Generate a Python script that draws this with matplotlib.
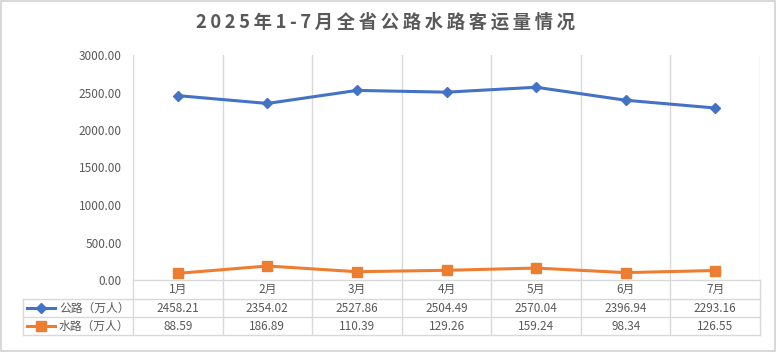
import matplotlib.pyplot as plt
import matplotlib.transforms as mtransforms

plt.rcParams['font.family'] = ['Noto Sans CJK SC', 'DejaVu Sans']

months = ['1月', '2月', '3月', '4月', '5月', '6月', '7月']
road = [2458.21, 2354.02, 2527.86, 2504.49, 2570.04, 2396.94, 2293.16]
water = [88.59, 186.89, 110.39, 129.26, 159.24, 98.34, 126.55]
road_label = '公路（万人）'
water_label = '水路（万人）'
title = '2025年1-7月全省公路水路客运量情况'

blue = '#4472C4'
orange = '#ED7D31'
grid = '#D9D9D9'
txt = '#595959'

W, H = 776, 352
fig = plt.figure(figsize=(W / 100, H / 100), dpi=100)
fig.patch.set_edgecolor(grid)
fig.patch.set_linewidth(1.5)

left, right, top, bottom = 133, 760, 55, 280
ax = fig.add_axes([left / W, 1 - bottom / H, (right - left) / W, (bottom - top) / H])

x = list(range(len(months)))
ax.plot(x, road, color=blue, lw=2.2, marker='D', ms=5.5, label=road_label)
ax.plot(x, water, color=orange, lw=2.2, marker='s', ms=7, label=water_label)

ax.set_xlim(-0.5, len(months) - 0.5)
ax.set_ylim(0, 3000)
ax.set_yticks(range(0, 3001, 500))
ax.set_yticklabels([f'{v:.2f}' for v in range(0, 3001, 500)], color=txt, fontsize=8.5)
ax.tick_params(axis='y', length=0, pad=8)
ax.set_xticks([])
for s in ['top', 'right', 'left']:
    ax.spines[s].set_visible(False)
ax.spines['bottom'].set_color(grid)
ax.spines['bottom'].set_linewidth(1)

for b in range(len(months) + 1):
    ax.axvline(b - 0.5, color=grid, lw=1, zorder=0)

# spaced-out title like the original
fig.suptitle('\u2009'.join(title), x=386 / W, y=1 - 22 / H, va='center', fontsize=13.2,
             fontweight='bold', color=txt)

# data table under the plot
tr = mtransforms.blended_transform_factory(ax.transData, ax.transAxes)
px = (right - left) / len(months)
def yf(py):
    return (bottom - py) / (bottom - top)
tbl_left = -0.5 - (left - 23) / px
r0, r1, r2, r3 = yf(280), yf(299), yf(317), yf(335)
lk = dict(color=grid, lw=1, transform=tr, clip_on=False)
for yy in (r1, r2, r3):
    ax.plot([tbl_left, len(months) - 0.5], [yy, yy], **lk)
ax.plot([tbl_left, tbl_left], [r1, r3], **lk)
for b in range(len(months) + 1):
    ax.plot([b - 0.5, b - 0.5], [r0, r3], **lk)

for i, m in enumerate(months):
    ax.text(i, (r0 + r1) / 2, m, transform=tr, ha='center', va='center', fontsize=8.5, color=txt)
    ax.text(i, (r1 + r2) / 2, f'{road[i]:.2f}', transform=tr, ha='center', va='center', fontsize=8.5, color=txt)
    ax.text(i, (r2 + r3) / 2, f'{water[i]:.2f}', transform=tr, ha='center', va='center', fontsize=8.5, color=txt)

for (yy0, yy1), col, mk, ms, lab in [((r1, r2), blue, 'D', 5, road_label),
                                     ((r2, r3), orange, 's', 6.5, water_label)]:
    ym = (yy0 + yy1) / 2
    x0 = -0.5 - (left - 27) / px
    x1 = -0.5 - (left - 55) / px
    ax.plot([x0, x1], [ym, ym], color=col, lw=2.2, transform=tr, clip_on=False)
    ax.plot([(x0 + x1) / 2], [ym], color=col, marker=mk, ms=ms, transform=tr, clip_on=False)
    ax.text(-0.5 - (left - 59) / px, ym, lab, transform=tr, ha='left', va='center', fontsize=8.5, color=txt)

fig.savefig('out.png', dpi=100, edgecolor=fig.get_edgecolor())
